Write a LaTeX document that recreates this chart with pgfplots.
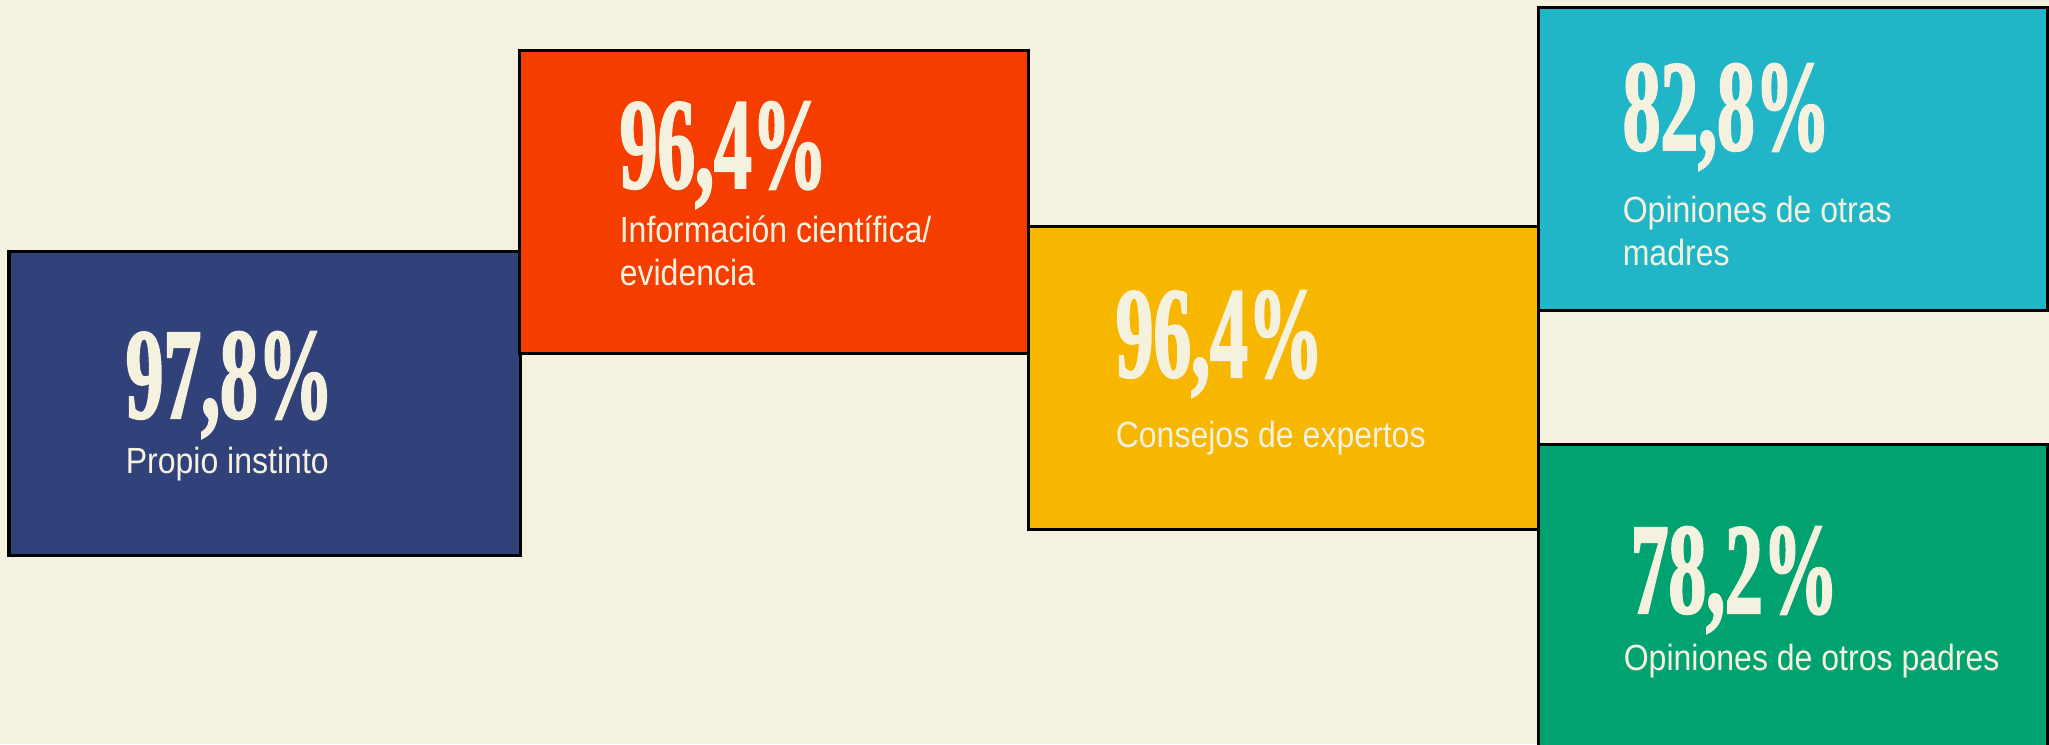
\documentclass[border=0pt]{standalone}
\usepackage{fontspec}
\usepackage{pgfplots}
\pgfplotsset{compat=1.18}
\setmainfont{Liberation Sans}
\newfontfamily\numfont[FakeStretch=0.58, FakeBold=1.5]{Liberation Serif}
\newfontfamily\labfont[FakeStretch=0.88]{Liberation Sans}
\definecolor{bg}{HTML}{F5F1DF}
\definecolor{cream}{HTML}{F5F1DF}
\definecolor{navy}{HTML}{31427A}
\definecolor{redo}{HTML}{F53D00}
\definecolor{yel}{HTML}{F7B600}
\definecolor{cya}{HTML}{20B5C7}
\definecolor{grn}{HTML}{00A370}
\newcommand{\bignum}{\numfont\bfseries\fontsize{32.5}{32.5}\selectfont}
\newcommand{\lab}{\labfont\fontsize{9.1}{10.75}\selectfont}
\begin{document}
\begin{tikzpicture}
\begin{axis}[
  width=512.25pt, height=186pt, scale only axis,
  xmin=0, xmax=2049, ymin=0, ymax=744, y dir=reverse,
  hide axis,
]
\addplot[fill=bg, draw=none] coordinates {(0,0) (2049,0) (2049,744) (0,744)} --cycle;
% Propio instinto 97.8
\addplot[fill=navy, draw=black, line width=0.75pt] coordinates {(9,251) (520,251) (520,555) (9,555)} --cycle;
% Informacion cientifica 96.4
\addplot[fill=redo, draw=black, line width=0.75pt] coordinates {(519,50) (1028,50) (1028,353) (519,353)} --cycle;
% Consejos de expertos 96.4
\addplot[fill=yel, draw=black, line width=0.75pt] coordinates {(1028,226) (1538,226) (1538,529) (1028,529)} --cycle;
% Opiniones de otras madres 82.8
\addplot[fill=cya, draw=black, line width=0.75pt] coordinates {(1538,7) (2047,7) (2047,310) (1538,310)} --cycle;
% Opiniones de otros padres 78.2
\addplot[fill=grn, draw=black, line width=0.75pt] coordinates {(1538,444) (2047,444) (2047,760) (1538,760)} --cycle;

\node[anchor=base west, inner sep=0, text=cream] at (axis cs:125,418) {\bignum 97,8\%};
\node[anchor=base west, inner sep=0, text=cream] at (axis cs:125,473) {\lab Propio instinto};

\node[anchor=base west, inner sep=0, text=cream] at (axis cs:619,188) {\bignum 96,4\%};
\node[anchor=base west, inner sep=0, text=cream] at (axis cs:619,242) {\lab Información científica/};
\node[anchor=base west, inner sep=0, text=cream] at (axis cs:619,285) {\lab evidencia};

\node[anchor=base west, inner sep=0, text=cream] at (axis cs:1115,377) {\bignum 96,4\%};
\node[anchor=base west, inner sep=0, text=cream] at (axis cs:1115,447) {\lab Consejos de expertos};

\node[anchor=base west, inner sep=0, text=cream] at (axis cs:1622,150) {\bignum 82,8\%};
\node[anchor=base west, inner sep=0, text=cream] at (axis cs:1622,222) {\lab Opiniones de otras};
\node[anchor=base west, inner sep=0, text=cream] at (axis cs:1622,265) {\lab madres};

\node[anchor=base west, inner sep=0, text=cream] at (axis cs:1630,613) {\bignum 78,2\%};
\node[anchor=base west, inner sep=0, text=cream] at (axis cs:1623,670) {\lab Opiniones de otros padres};
\end{axis}
\end{tikzpicture}
\end{document}
